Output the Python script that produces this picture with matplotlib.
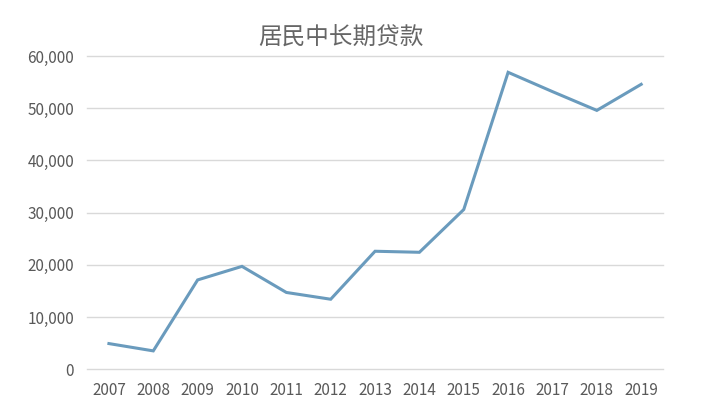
import matplotlib
matplotlib.use('Agg')
import matplotlib.pyplot as plt
from matplotlib.ticker import FuncFormatter

plt.rcParams['font.family'] = ['Noto Sans CJK SC', 'DejaVu Sans']

years = ['2007', '2008', '2009', '2010', '2011', '2012', '2013',
         '2014', '2015', '2016', '2017', '2018', '2019']
loans = [4900, 3500, 17100, 19700, 14700, 13400, 22600,
         22400, 30600, 56900, 53200, 49600, 54600]
title = '居民中长期贷款'

fig = plt.figure(figsize=(7.11, 4.19), dpi=100)
ax = fig.add_axes([0.122, 0.119, 0.811, 0.747])

x = range(len(years))
ax.plot(x, loans, color='#6a9bbd', linewidth=2.2, solid_joinstyle='miter')

ax.set_xlim(-0.5, len(years) - 0.5)
ax.set_ylim(0, 60000)
ax.set_yticks(range(0, 60001, 10000))
ax.yaxis.set_major_formatter(FuncFormatter(lambda v, p: f'{int(v):,}'))
ax.set_xticks(list(x))
ax.set_xticklabels(years)

ax.grid(axis='y', color='#d9d9d9', linewidth=1)
for gl in ax.get_ygridlines():
    gl.set_clip_on(False)
ax.set_axisbelow(True)
for s in ax.spines.values():
    s.set_visible(False)
ax.tick_params(length=0, labelsize=11, labelcolor='#595959')
ax.tick_params(axis='x', pad=9)
ax.tick_params(axis='y', pad=9)

fig.text(0.48, 0.91, title, ha='center', va='center', fontsize=17,
         color='#666666', fontweight='light')

fig.savefig('out.png', dpi=100)
